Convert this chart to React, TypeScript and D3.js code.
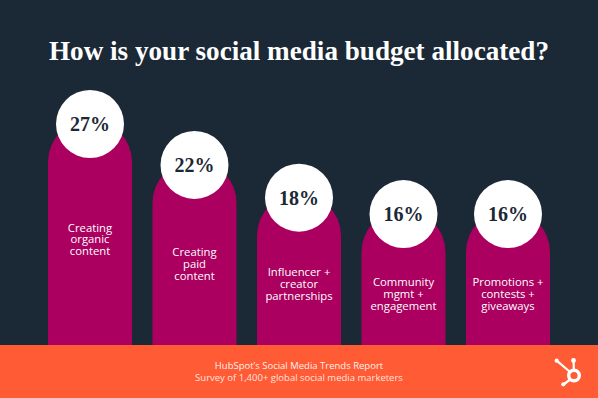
import React, { useEffect } from "react";
import * as d3 from "d3";

const categories = ["organic", "paid", "influencer", "community", "promotions"];
const values = [27, 22, 18, 16, 16];
const labelLines = [
  ["Creating", "organic", "content"],
  ["Creating", "paid", "content"],
  ["Influencer +", "creator", "partnerships"],
  ["Community", "mgmt +", "engagement"],
  ["Promotions +", "contests +", "giveaways"],
];
const title = "How is your social media budget allocated?";
const footerLines = [
  "HubSpot\u2019s Social Media Trends Report",
  "Survey of 1,400+ global social media marketers",
];

const W = 598;
const H = 398;
const BASE = 345;

export default function App() {
  useEffect(() => {
    document.body.style.margin = "0";
  }, []);

  const x = d3.scaleBand<string>().domain(categories).range([48, 550]).paddingInner(0.196).paddingOuter(0);
  const y = d3.scaleLinear().domain([0, 27]).range([BASE, 124]);
  const bw = x.bandwidth();
  const r = bw / 2;

  const barPath = (cat: string, v: number) => {
    const x0 = x(cat)!;
    const x1 = x0 + bw;
    const top = y(v) - 4;
    const p = d3.path();
    p.moveTo(x0, BASE + 2);
    p.lineTo(x0, top + r);
    p.arc(x0 + r, top + r, r, Math.PI, 0);
    p.lineTo(x1, BASE + 2);
    p.closePath();
    return p.toString();
  };

  const lh = 11.7;

  return (
    <svg width={W} height={H} style={{ display: "block", position: "fixed", left: 0, top: 0 }}>
      <rect x={0} y={0} width={W} height={H} fill="#1b2835" />
      <text
        x={W / 2}
        y={60}
        textAnchor="middle"
        fill="#ffffff"
        fontFamily="'Liberation Serif', 'DejaVu Serif', serif"
        fontWeight={700}
        fontSize={28}
        textLength={500}
        lengthAdjust="spacingAndGlyphs"
      >
        {title}
      </text>
      {categories.map((c, i) => {
        const cx = x(c)! + r;
        const cy = y(values[i]);
        const tc = 164 + 0.607 * cy;
        return (
          <g key={c}>
            <path d={barPath(c, values[i])} fill="#ab005f" />
            <circle cx={cx} cy={cy} r={34} fill="#ffffff" />
            <text
              x={cx}
              y={cy + 7}
              textAnchor="middle"
              fill="#1c2836"
              fontFamily="'Liberation Serif', 'DejaVu Serif', serif"
              fontWeight={700}
              fontSize={20}
            >
              {values[i]}%
            </text>
            <text
              x={cx}
              y={tc - lh + 4}
              textAnchor="middle"
              fill="#ffffff"
              fontFamily="'Open Sans', sans-serif"
              fontSize={11.3}
            >
              {labelLines[i].map((ln, j) => (
                <tspan key={j} x={cx} dy={j === 0 ? 0 : lh}>
                  {ln}
                </tspan>
              ))}
            </text>
          </g>
        );
      })}
      <rect x={0} y={BASE} width={W} height={H - BASE} fill="#ff5c35" />
      <text
        x={299}
        y={368.5}
        textAnchor="middle"
        fill="#ffffff"
        fontFamily="'Open Sans', sans-serif"
        fontSize={9.5}
      >
        {footerLines.map((ln, j) => (
          <tspan key={j} x={299} dy={j === 0 ? 0 : 12.7} fillOpacity={j === 0 ? 0.95 : 0.85}>
            {ln}
          </tspan>
        ))}
      </text>
      <g stroke="#ffffff" fill="none" strokeWidth={2.2} strokeLinecap="round">
        <circle cx={574} cy={375.5} r={5.3} strokeWidth={3.4} />
        <line x1={573.6} y1={361} x2={573.8} y2={369} />
        <line x1={556.7} y1={360.7} x2={569.5} y2={371.5} />
        <line x1={569.5} y1={380} x2={563.5} y2={384.5} />
      </g>
      <g fill="#ffffff">
        <circle cx={573.5} cy={360.5} r={2.4} />
        <circle cx={556.7} cy={360.7} r={2.1} />
        <circle cx={563.3} cy={384.3} r={2.1} />
      </g>
    </svg>
  );
}
